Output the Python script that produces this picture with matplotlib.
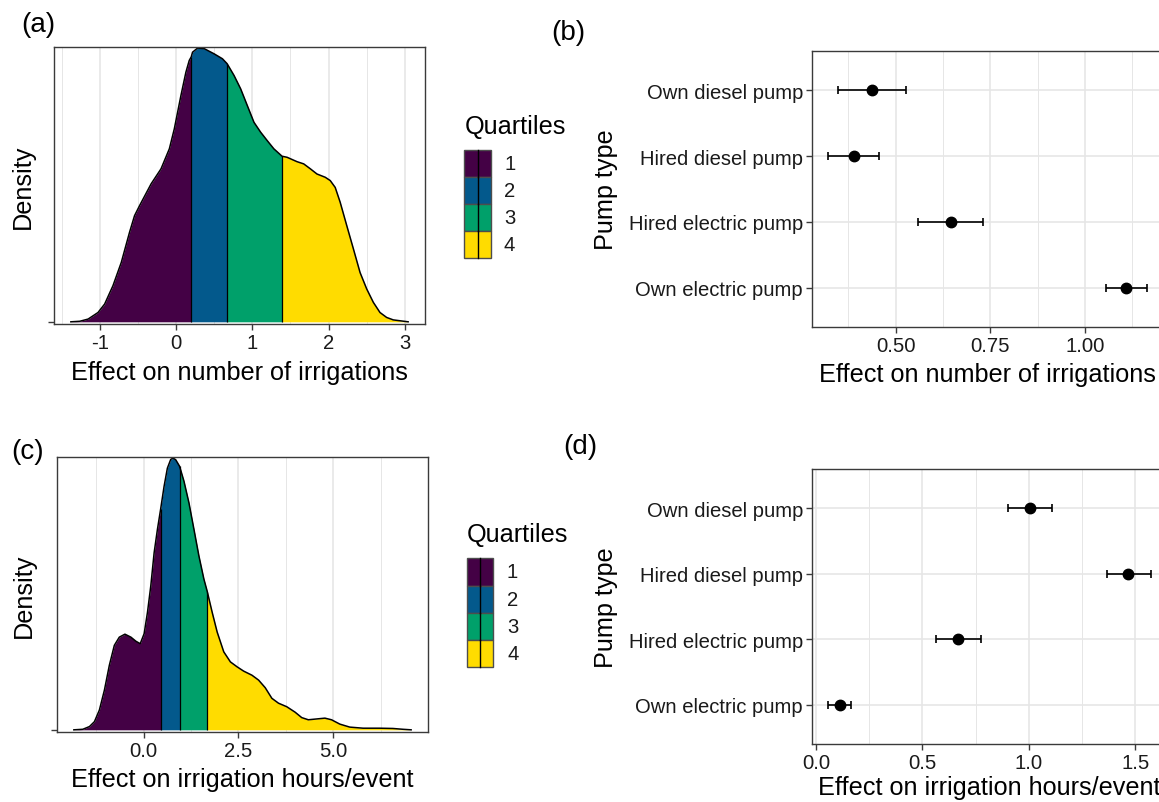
import numpy as np
import matplotlib
matplotlib.use("Agg")
import matplotlib.pyplot as plt
from matplotlib.patches import Rectangle
from matplotlib.lines import Line2D
from matplotlib.ticker import MultipleLocator, FormatStrFormatter

W, H = 1159, 803
plt.rcParams["font.family"] = ["Liberation Sans", "DejaVu Sans"]
plt.rcParams["axes.unicode_minus"] = False

QUART_COLORS = ["#440145", "#03598C", "#00A06A", "#FFDC00"]
QUART_LABELS = ["1", "2", "3", "4"]

# (a) density of effect on number of irrigations (peak scaled to 1)
irr_x = [-1.378, -1.261, -1.152, -1.022, -0.935, -0.826, -0.717, -0.609, -0.543,
         -0.478, -0.326, -0.196, -0.087, -0.022, 0.065, 0.130, 0.174, 0.20,
         0.217, 0.283, 0.370, 0.500, 0.609, 0.67, 0.761, 0.848, 0.935, 1.022,
         1.109, 1.196, 1.283, 1.39, 1.457, 1.587, 1.674, 1.761, 1.848, 1.957,
         2.022, 2.087, 2.152, 2.239, 2.326, 2.413, 2.500, 2.587, 2.674, 2.761,
         2.848, 3.043]
irr_y = [0.0, 0.002, 0.010, 0.034, 0.065, 0.132, 0.217, 0.327, 0.388,
         0.424, 0.504, 0.559, 0.632, 0.705, 0.827, 0.912, 0.955, 0.968,
         0.985, 1.0, 0.998, 0.979, 0.961, 0.943, 0.900, 0.851, 0.790, 0.729,
         0.693, 0.662, 0.632, 0.605, 0.601, 0.585, 0.577, 0.559, 0.540, 0.528,
         0.516, 0.491, 0.437, 0.351, 0.266, 0.180, 0.120, 0.071, 0.034, 0.016,
         0.007, 0.0]
irr_quartiles = [0.20, 0.67, 1.39]

# (c) density of effect on irrigation hours/event (peak scaled to 1)
hrs_x = [-1.836, -1.600, -1.425, -1.294, -1.163, -1.031, -0.900, -0.769, -0.638,
         -0.490, -0.332, -0.201, -0.087, 0.017, 0.105, 0.192, 0.280, 0.367,
         0.45, 0.542, 0.629, 0.717, 0.778, 0.848, 0.95, 1.066, 1.198, 1.329,
         1.460, 1.591, 1.68, 1.809, 1.941, 2.115, 2.290, 2.465, 2.640, 2.858,
         3.033, 3.208, 3.383, 3.558, 3.776, 3.995, 4.170, 4.344, 4.563, 4.781,
         4.956, 5.175, 5.437, 5.787, 6.224, 6.573, 6.836, 7.054]
hrs_y = [0.0, 0.002, 0.012, 0.030, 0.073, 0.146, 0.238, 0.311, 0.341,
         0.352, 0.341, 0.326, 0.317, 0.354, 0.433, 0.530, 0.652, 0.738,
         0.811, 0.896, 0.963, 0.995, 1.0, 0.994, 0.970, 0.915, 0.835, 0.738,
         0.640, 0.555, 0.509, 0.433, 0.360, 0.287, 0.250, 0.232, 0.216, 0.201,
         0.183, 0.155, 0.116, 0.098, 0.085, 0.065, 0.045, 0.037, 0.040, 0.043,
         0.037, 0.021, 0.010, 0.006, 0.006, 0.005, 0.002, 0.0]
hrs_quartiles = [0.45, 0.95, 1.68]

pumps = ["Own diesel pump", "Hired diesel pump", "Hired electric pump", "Own electric pump"]
irr_est = [0.437, 0.389, 0.645, 1.109]
irr_lo = [0.348, 0.321, 0.559, 1.055]
irr_hi = [0.526, 0.456, 0.731, 1.163]
hrs_est = [1.004, 1.467, 0.666, 0.111]
hrs_lo = [0.902, 1.365, 0.563, 0.057]
hrs_hi = [1.107, 1.571, 0.775, 0.166]

TICK_FS = 14.6
TITLE_FS = 18.2
TEXT_COL = "#1a1a1a"
FRAME_COL = "#3a3a3a"
GRID_COL = "#E6E6E6"


def add_axes_px(fig, left, top, right, bottom):
    return fig.add_axes([left / W, 1 - bottom / H, (right - left) / W, (bottom - top) / H])


def expand(lo, hi, frac=0.05):
    pad = (hi - lo) * frac
    return lo - pad, hi + pad


def style_axes(ax):
    for sp in ax.spines.values():
        sp.set_color(FRAME_COL)
        sp.set_linewidth(1.0)
    ax.set_axisbelow(True)
    ax.tick_params(which="major", length=4.5, width=1.0, color=FRAME_COL,
                   labelsize=TICK_FS, labelcolor=TEXT_COL, pad=2)
    ax.tick_params(which="minor", length=0)


def density_panel(ax, xs, ys, quartiles, xlabel, major, minor, fmt, xlab_y, ylab_x):
    xs = np.asarray(xs)
    ys = np.asarray(ys)
    bounds = [xs[0]] + list(quartiles) + [xs[-1]]
    for i, col in enumerate(QUART_COLORS):
        m = (xs >= bounds[i]) & (xs <= bounds[i + 1])
        ax.fill_between(xs[m], 0, ys[m], color=col, lw=0)
    ax.plot(xs, ys, color="black", lw=1.1)
    for q in quartiles:
        ax.vlines(q, 0, np.interp(q, xs, ys), color="black", lw=0.9)
    ax.set_xlim(*expand(xs[0], xs[-1]))
    ax.set_ylim(-0.008, 1.004)
    ax.xaxis.set_major_locator(MultipleLocator(major))
    ax.xaxis.set_minor_locator(MultipleLocator(minor))
    if fmt:
        ax.xaxis.set_major_formatter(FormatStrFormatter(fmt))
    ax.set_yticks([0])
    ax.set_yticklabels([""])
    ax.grid(axis="x", which="major", color=GRID_COL, lw=1.2)
    ax.grid(axis="x", which="minor", color=GRID_COL, lw=0.7)
    style_axes(ax)
    ax.set_xlabel(xlabel, fontsize=TITLE_FS, color="black")
    ax.xaxis.set_label_coords(0.5, xlab_y)
    ax.xaxis.label.set_va("center")
    ax.set_ylabel("Density", fontsize=TITLE_FS, color="black")
    ax.yaxis.set_label_coords(ylab_x, 0.5)
    ax.yaxis.label.set_va("center")


def effect_panel(ax, est, lo, hi, xlabel, major, fmt, xlab_y, ylab_x):
    ypos = np.arange(len(pumps))[::-1]
    est = np.asarray(est)
    err = [est - np.asarray(lo), np.asarray(hi) - est]
    ax.errorbar(est, ypos, xerr=err, fmt="o", color="black", ms=7.5,
                elinewidth=1.2, capsize=2.6, capthick=1.2, zorder=3)
    ax.set_xlim(*expand(min(lo), max(hi)))
    ax.set_ylim(-0.6, len(pumps) - 0.4)
    ax.set_yticks(ypos)
    ax.set_yticklabels(pumps)
    ax.xaxis.set_major_locator(MultipleLocator(major))
    ax.xaxis.set_minor_locator(MultipleLocator(major / 2))
    ax.xaxis.set_major_formatter(FormatStrFormatter(fmt))
    ax.grid(axis="x", which="major", color=GRID_COL, lw=1.2)
    ax.grid(axis="x", which="minor", color=GRID_COL, lw=0.7)
    ax.grid(axis="y", which="major", color=GRID_COL, lw=1.2)
    style_axes(ax)
    ax.set_xlabel(xlabel, fontsize=TITLE_FS, color="black")
    ax.xaxis.set_label_coords(0.5, xlab_y)
    ax.xaxis.label.set_va("center")
    ax.set_ylabel("Pump type", fontsize=TITLE_FS, color="black")
    ax.yaxis.set_label_coords(ylab_x, 0.5)
    ax.yaxis.label.set_va("center")


def draw_legend(fig, left, title_y, key_top, key_w, key_h, label_x):
    fig.text(left / W, 1 - title_y / H, "Quartiles", fontsize=TITLE_FS,
             ha="left", va="center", color="black")
    for i, (col, lab) in enumerate(zip(QUART_COLORS, QUART_LABELS)):
        top = key_top + i * key_h
        fig.add_artist(Rectangle((left / W, 1 - (top + key_h) / H), key_w / W, key_h / H,
                                 transform=fig.transFigure, facecolor=col,
                                 edgecolor="#4d4d4d", lw=1.0))
        mid = (left + key_w / 2) / W
        fig.add_artist(Line2D([mid, mid], [1 - top / H, 1 - (top + key_h) / H],
                              transform=fig.transFigure, color="black", lw=1.0))
        fig.text(label_x / W, 1 - (top + key_h / 2) / H, lab, fontsize=TICK_FS,
                 ha="left", va="center", color=TEXT_COL)


def main():
    fig = plt.figure(figsize=(W / 100, H / 100), dpi=100)

    ax_a = add_axes_px(fig, 54, 48, 425, 325)
    density_panel(ax_a, irr_x, irr_y, irr_quartiles, "Effect on number of irrigations",
                  1, 0.5, None, -0.173, -0.084)

    ax_b = add_axes_px(fig, 812, 52, 1162.7, 328)
    effect_panel(ax_b, irr_est, irr_lo, irr_hi, "Effect on number of irrigations",
                 0.25, "%.2f", -0.170, -0.587)

    ax_c = add_axes_px(fig, 57, 458, 428, 733)
    density_panel(ax_c, hrs_x, hrs_y, hrs_quartiles, "Effect on irrigation hours/event",
                  2.5, 1.25, "%.1f", -0.171, -0.089)

    ax_d = add_axes_px(fig, 812, 470, 1166.7, 745)
    effect_panel(ax_d, hrs_est, hrs_lo, hrs_hi, "Effect on irrigation hours/event",
                 0.5, "%.1f", -0.156, -0.581)

    draw_legend(fig, 464.5, 127, 150.7, 26.4, 27.15, 504)
    draw_legend(fig, 467, 535, 559.3, 26.0, 27.25, 507)

    for tag, x, y in [("(a)", 38, 25), ("(b)", 568, 32.5), ("(c)", 27.5, 452.5), ("(d)", 580.5, 446.7)]:
        fig.text(x / W, 1 - y / H, tag, fontsize=20, ha="center", va="center", color="black")

    fig.savefig("out.png", dpi=100)


if __name__ == "__main__":
    main()
